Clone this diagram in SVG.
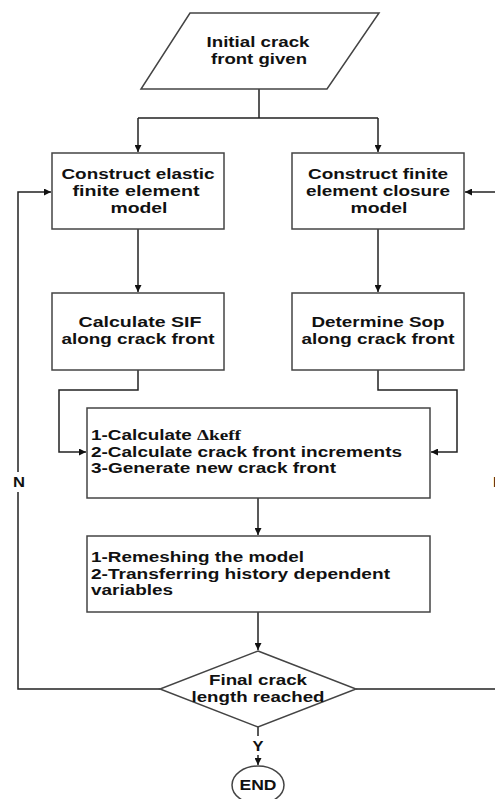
<svg xmlns="http://www.w3.org/2000/svg" width="495" height="799" viewBox="0 0 495 799">
<style>
.n{fill:#fff;stroke:#444;stroke-width:1.5}
.t{font-family:"Liberation Sans",Arial,sans-serif;font-weight:bold;font-size:14.5px;fill:#111}
.c{text-anchor:middle}
.e{fill:none;stroke:#222;stroke-width:1.5}
</style>
<defs>
<marker id="a" viewBox="0 0 10 10" refX="10" refY="5" markerWidth="7" markerHeight="7" orient="auto" markerUnits="userSpaceOnUse">
<path d="M0,0L10,5L0,10z" fill="#111"/>
</marker>
</defs>
<g id="connectors">
<path class="e" d="M259,89V118M138,118H378"/>
<path class="e" d="M138,118V152" marker-end="url(#a)"/>
<path class="e" d="M378,118V152" marker-end="url(#a)"/>
<path class="e" d="M138,229V292" marker-end="url(#a)"/>
<path class="e" d="M378,229V292" marker-end="url(#a)"/>
<path class="e" d="M138,370V390H59V452H86" marker-end="url(#a)"/>
<path class="e" d="M378,370V390H457V452H431" marker-end="url(#a)"/>
<path class="e" d="M258,498V535" marker-end="url(#a)"/>
<path class="e" d="M258,612V650" marker-end="url(#a)"/>
<path class="e" d="M160,689H18V492M18,472V192H51" marker-end="url(#a)"/>
<path class="e" d="M356,689H495"/>
<path class="e" d="M495,192H465" marker-end="url(#a)"/>
<path class="e" d="M258,727V736"/>
<path class="e" d="M258,755V765" marker-end="url(#a)"/>
<text class="t c" x="19" y="487" textLength="12" lengthAdjust="spacingAndGlyphs">N</text>
<text class="t c" x="499" y="487" textLength="12" lengthAdjust="spacingAndGlyphs">N</text>
<text class="t c" x="258" y="751" textLength="11" lengthAdjust="spacingAndGlyphs">Y</text>
</g>
<g id="start">
<polygon class="n" points="190,13 379,13 327,89 141,89"/>
<text class="t c" x="258" y="47" textLength="103" lengthAdjust="spacingAndGlyphs">Initial crack</text>
<text class="t c" x="259" y="64" textLength="96" lengthAdjust="spacingAndGlyphs">front given</text>
</g>
<g id="elastic">
<rect class="n" x="52" y="153" width="172" height="76"/>
<text class="t c" x="138" y="179" textLength="153" lengthAdjust="spacingAndGlyphs">Construct elastic</text>
<text class="t c" x="136" y="196" textLength="127" lengthAdjust="spacingAndGlyphs">finite element</text>
<text class="t c" x="139" y="213" textLength="57" lengthAdjust="spacingAndGlyphs">model</text>
</g>
<g id="closure">
<rect class="n" x="292" y="153" width="172" height="76"/>
<text class="t c" x="378" y="179" textLength="140" lengthAdjust="spacingAndGlyphs">Construct finite</text>
<text class="t c" x="378" y="196" textLength="144" lengthAdjust="spacingAndGlyphs">element closure</text>
<text class="t c" x="379" y="213" textLength="57" lengthAdjust="spacingAndGlyphs">model</text>
</g>
<g id="sif">
<rect class="n" x="52" y="293" width="172" height="77"/>
<text class="t c" x="140" y="327" textLength="123" lengthAdjust="spacingAndGlyphs">Calculate SIF</text>
<text class="t c" x="138" y="344" textLength="153" lengthAdjust="spacingAndGlyphs">along crack front</text>
</g>
<g id="sop">
<rect class="n" x="292" y="293" width="172" height="77"/>
<text class="t c" x="378" y="327" textLength="133" lengthAdjust="spacingAndGlyphs">Determine Sop</text>
<text class="t c" x="378" y="344" textLength="153" lengthAdjust="spacingAndGlyphs">along crack front</text>
</g>
<g id="calc">
<rect class="n" x="87" y="408" width="343" height="90"/>
<text class="t" x="91" y="440"><tspan textLength="106" lengthAdjust="spacingAndGlyphs">1-Calculate </tspan><tspan font-family="Liberation Serif,serif" textLength="44" lengthAdjust="spacingAndGlyphs">Δkeff</tspan></text>
<text class="t" x="91" y="457" textLength="311" lengthAdjust="spacingAndGlyphs">2-Calculate crack front increments</text>
<text class="t" x="91" y="473" textLength="245" lengthAdjust="spacingAndGlyphs">3-Generate new crack front</text>
</g>
<g id="remesh">
<rect class="n" x="87" y="536" width="343" height="76"/>
<text class="t" x="91" y="562" textLength="213" lengthAdjust="spacingAndGlyphs">1-Remeshing the model</text>
<text class="t" x="91" y="579" textLength="299" lengthAdjust="spacingAndGlyphs">2-Transferring history dependent</text>
<text class="t" x="91" y="595" textLength="82" lengthAdjust="spacingAndGlyphs">variables</text>
</g>
<g id="decision">
<polygon class="n" points="258,651 356,689 258,727 160,689"/>
<text class="t c" x="258" y="685" textLength="98" lengthAdjust="spacingAndGlyphs">Final crack</text>
<text class="t c" x="258" y="702" textLength="133" lengthAdjust="spacingAndGlyphs">length reached</text>
</g>
<g id="end">
<ellipse class="n" cx="258" cy="785" rx="26" ry="19"/>
<text class="t c" x="258" y="790" textLength="37" lengthAdjust="spacingAndGlyphs">END</text>
</g>
</svg>
